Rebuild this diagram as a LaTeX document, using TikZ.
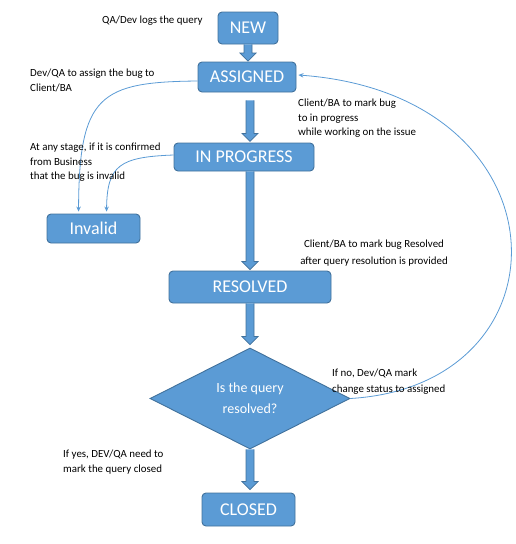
\documentclass[tikz,border=0pt]{standalone}
\usepackage{fontspec}
\setmainfont{Carlito}
\usetikzlibrary{shapes.geometric,calc,arrows.meta}
\definecolor{boxfill}{HTML}{5B9BD5}
\definecolor{boxline}{HTML}{41719C}

% Thick block arrow from a start point straight down to a tip point
\newcommand\blockarrow[2]{%
  \path let \p1=#1, \p2=#2 in
    [fill=boxfill] ({\x1-4pt},\y1) -- ({\x1-4pt},{\y2+8pt}) -- ({\x1-8pt},{\y2+8pt})
      -- (\x1,\y2) -- ({\x1+8pt},{\y2+8pt}) -- ({\x1+4pt},{\y2+8pt}) -- ({\x1+4pt},\y1) -- cycle;
  \path let \p1=#1, \p2=#2 in
    [draw=boxline, line width=0.7pt, line join=miter] ({\x1-4pt},\y1) -- ({\x1-4pt},{\y2+8pt}) -- ({\x1-8pt},{\y2+8pt})
      -- (\x1,\y2) -- ({\x1+8pt},{\y2+8pt}) -- ({\x1+4pt},{\y2+8pt}) -- ({\x1+4pt},\y1);
}

\begin{document}
\begin{tikzpicture}[x=1pt,y=-1pt,
  state/.style={draw=boxline, fill=boxfill, line width=0.9pt, rounded corners=4pt,
    text=white, font=\fontsize{18}{20}\selectfont, inner sep=0pt},
  decision/.style={diamond, draw=boxline, fill=boxfill, line width=0.9pt, aspect=2,
    inner sep=0pt, minimum width=200pt, minimum height=101pt,
    text=white, font=\fontsize{14}{21}\selectfont, align=center},
  note/.style={font=\fontsize{10.9}{14.5}\selectfont, align=left, inner sep=0pt, text=black},
  link/.style={draw=boxfill, line width=0.8pt, -{Stealth[length=5pt,width=4.5pt]}}]
\useasboundingbox (0,0) rectangle (515,544);

% states
\node[state, minimum width=60pt, minimum height=32pt] (new) at (248,28) {NEW};
\node[state, minimum width=98pt, minimum height=30pt] (assigned) at (247,77) {ASSIGNED};
\node[state, minimum width=140pt, minimum height=28pt] (inprogress) at (244,157) {IN PROGRESS};
\node[state, minimum width=162pt, minimum height=32pt] (resolved) at (250,287) {RESOLVED};
\node[state, minimum width=93pt, minimum height=29pt] (invalid) at (93.5,228.5) {Invalid};
\node[decision] (decision) at (250,398.5) {Is the query\\resolved?};
\node[state, minimum width=93pt, minimum height=33pt] (closed) at (248.5,509.5) {CLOSED};

% main flow
\blockarrow{(new.south)}{($(new.south |- assigned.north)+(0,-0.5)$)}
\blockarrow{($(assigned.south)+(3,8)$)}{($(assigned.south -| 250,0)+(0,49)$)}
\blockarrow{($(inprogress.south)+(6,0)$)}{($(resolved.north)+(0,-1)$)}
\blockarrow{(resolved.south)}{($(decision.north)+(0,-3)$)}
\blockarrow{(decision.south)}{($(decision.south |- closed.north)+(0,-3)$)}

% side transitions
\draw[link] ($(assigned.west)+(0,4)$) .. controls (100,82) and (79,95) .. ($(invalid.north west)+(32,-2)$);
\draw[link] ($(inprogress.west)+(0,-2)$) .. controls (120,157) and (107,165) .. ($(invalid.north west)+(60,-2)$);
\draw[link] (decision.east) .. controls (575,385) and (570,95) .. ($(assigned.east)+(2,-2)$);

% annotations
\node[note, anchor=north west] (n1) at (102,16) {QA/Dev logs the query};
\node[note, anchor=north west] (n2) at (30,69) {Dev/QA to assign the bug to\\Client/BA};
\node[note, anchor=north west] (n3) at (298,99) {Client/BA to mark bug\\to in progress\\while working on the issue};
\node[note, anchor=north west] (n4) at (30,143) {At any stage, if it is confirmed\\from Business\\that the bug is invalid};
\node[note, anchor=north, align=center, font=\fontsize{10.9}{16.5}\selectfont] (n5) at (374,240) {Client/BA to mark bug Resolved\\after query resolution is provided};
\node[note, anchor=north west, font=\fontsize{10.9}{16}\selectfont] (n6) at (332,369) {If no, Dev/QA mark\\change status to assigned};
\node[note, anchor=north west] (n7) at (63,450) {If yes, DEV/QA need to\\mark the query closed};
\end{tikzpicture}
\end{document}
